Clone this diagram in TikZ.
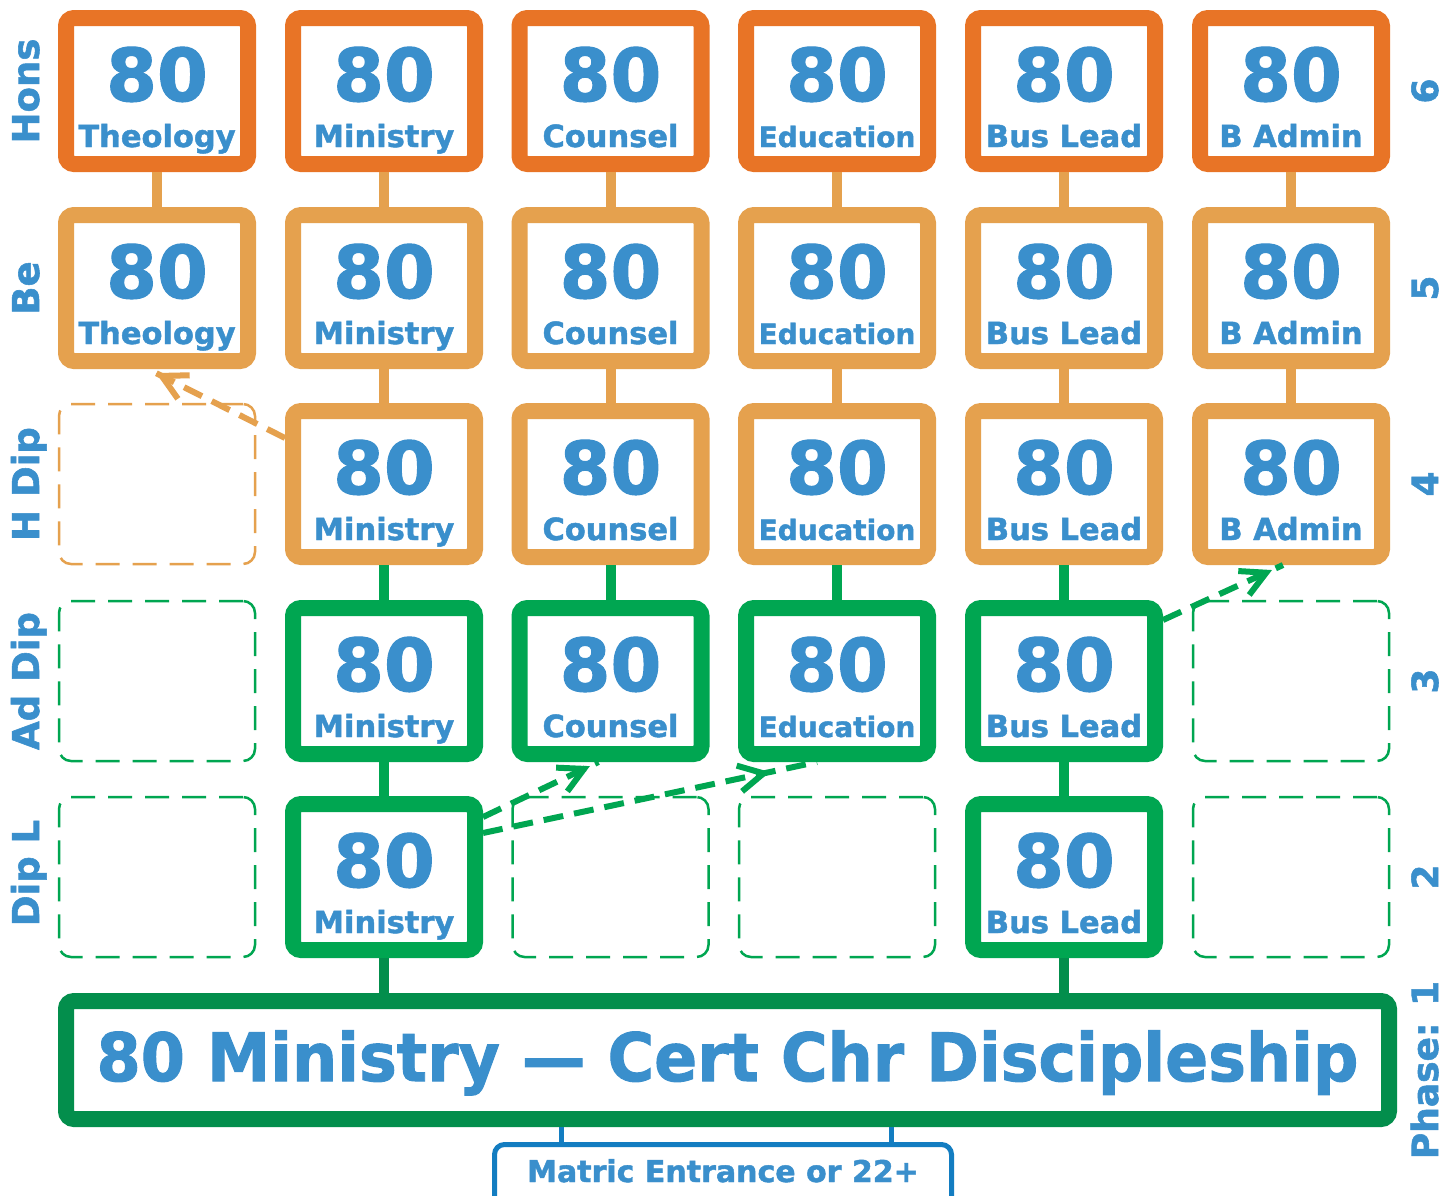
\documentclass[tikz,border=0pt]{standalone}
\usepackage{fontspec}
\setmainfont{DejaVu Sans}
\newfontfamily\hb{DejaVu Sans Bold}[FakeBold=1.5]
\usetikzlibrary{calc}
\definecolor{ordk}{RGB}{232,116,38}
\definecolor{orlt}{RGB}{229,161,78}
\definecolor{grn}{RGB}{0,166,81}
\definecolor{grndk}{RGB}{3,142,76}
\definecolor{tblue}{RGB}{58,143,204}
\definecolor{mblue}{RGB}{19,125,193}
\newcommand{\mkbox}[6]{%
  \node[tbox=#4] (#1) at (#2,#3) {};
  \node[numtxt] (#1n) at (#2,{#3+10}) {80};
  \node[labtxt,#5] (#1t) at (#2,{#3+56}) {#6};
}
% dashed arrow: colour, start, end, fraction of tip
\newcommand{\mkarrow}[4]{%
  \draw[darrow, color=#1] (#2) -- (#3);
  \coordinate (#2tip) at ($(#2)!#4!(#3)$);
  \draw[ahead, color=#1] ($(#2tip)!28pt!28:(#2)$) -- (#2tip) -- ($(#2tip)!28pt!-28:(#2)$);
}
\tikzset{
  tbox/.style={draw=#1, fill=white, line width=16pt, rounded corners=8pt,
    minimum width=182pt, minimum height=146pt, inner sep=0pt},
  dbox/.style={draw=#1, line width=2.5pt, dash pattern=on 24pt off 13pt,
    rounded corners=12pt, minimum width=196pt, minimum height=160pt, inner sep=0pt},
  numtxt/.style={anchor=base, inner sep=0pt, text=tblue,
    font=\fontsize{73}{73}\selectfont\hb},
  labtxt/.style={anchor=base, inner sep=0pt, text=tblue,
    font=\fontsize{30.5}{30.5}\selectfont\hb},
  edu/.style={font=\fontsize{28}{28}\selectfont\hb},
  nrm/.style={},
  conn/.style={line width=10pt},
  sidelab/.style={anchor=base, rotate=90, inner sep=0pt, text=tblue,
    font=\fontsize{37}{37}\selectfont\hb},
  phaselab/.style={anchor=base, rotate=90, inner sep=0pt, text=tblue,
    font=\fontsize{36}{36}\selectfont\hb},
  darrow/.style={line width=6pt, dash pattern=on 20pt off 11pt},
  ahead/.style={line width=6pt, line join=miter}
}
\begin{document}
\begin{tikzpicture}[x=1pt,y=-1pt]
\fill[white] (0,0) rectangle (1454,1195);
\useasboundingbox (0,0) rectangle (1454,1195);

% row 6 (Hons)
\mkbox{r6c1}{157}{91}{ordk}{nrm}{Theology}
\mkbox{r6c2}{384}{91}{ordk}{nrm}{Ministry}
\mkbox{r6c3}{610.5}{91}{ordk}{nrm}{Counsel}
\mkbox{r6c4}{837}{91}{ordk}{edu}{Education}
\mkbox{r6c5}{1064}{91}{ordk}{nrm}{Bus Lead}
\mkbox{r6c6}{1291}{91}{ordk}{nrm}{B Admin}
% row 5 (Be)
\mkbox{r5c1}{157}{288}{orlt}{nrm}{Theology}
\mkbox{r5c2}{384}{288}{orlt}{nrm}{Ministry}
\mkbox{r5c3}{610.5}{288}{orlt}{nrm}{Counsel}
\mkbox{r5c4}{837}{288}{orlt}{edu}{Education}
\mkbox{r5c5}{1064}{288}{orlt}{nrm}{Bus Lead}
\mkbox{r5c6}{1291}{288}{orlt}{nrm}{B Admin}
% row 4 (H Dip)
\node[dbox=orlt] (r4c1) at (157,484) {};
\mkbox{r4c2}{384}{484}{orlt}{nrm}{Ministry}
\mkbox{r4c3}{610.5}{484}{orlt}{nrm}{Counsel}
\mkbox{r4c4}{837}{484}{orlt}{edu}{Education}
\mkbox{r4c5}{1064}{484}{orlt}{nrm}{Bus Lead}
\mkbox{r4c6}{1291}{484}{orlt}{nrm}{B Admin}
% row 3 (Ad Dip)
\node[dbox=grn] (r3c1) at (157,681) {};
\mkbox{r3c2}{384}{681}{grn}{nrm}{Ministry}
\mkbox{r3c3}{610.5}{681}{grn}{nrm}{Counsel}
\mkbox{r3c4}{837}{681}{grn}{edu}{Education}
\mkbox{r3c5}{1064}{681}{grn}{nrm}{Bus Lead}
\node[dbox=grn] (r3c6) at (1291,681) {};
% row 2 (Dip L)
\node[dbox=grn] (r2c1) at (157,877) {};
\mkbox{r2c2}{384}{877}{grn}{nrm}{Ministry}
\node[dbox=grn] (r2c3) at (610.5,877) {};
\node[dbox=grn] (r2c4) at (837,877) {};
\mkbox{r2c5}{1064}{877}{grn}{nrm}{Bus Lead}
\node[dbox=grn] (r2c6) at (1291,877) {};

% main box
\node[draw=grndk, fill=white, line width=16pt, rounded corners=8pt,
  minimum width=1323pt, minimum height=118pt, inner sep=0pt] (main) at (727.5,1060) {};
\node[anchor=base, inner sep=0pt, text=tblue, font=\fontsize{63.5}{63.5}\selectfont\hb]
  (maint) at (727.5,1081) {\scalebox{1}[1.05]{80 Ministry — Cert Chr Discipleship}};

% matric box
\node[draw=mblue, line width=5pt, rounded corners=10pt,
  minimum width=457pt, minimum height=71pt, inner sep=0pt] (mt) at (723,1180) {};
\node[anchor=base, inner sep=0pt, text=tblue, font=\fontsize{30}{30}\selectfont\hb]
  (mtt) at (723,1182) {Matric Entrance or 22+};

% connectors
\foreach \c in {1,...,6} {\draw[conn,orlt] (r6c\c.south) -- (r5c\c.north);}
\foreach \c in {2,...,6} {\draw[conn,orlt] (r5c\c.south) -- (r4c\c.north);}
\foreach \c in {2,...,5} {\draw[conn,grn] (r4c\c.south) -- (r3c\c.north);}
\foreach \c in {2,5} {\draw[conn,grn] (r3c\c.south) -- (r2c\c.north);}
\foreach \c in {2,5} {\draw[conn,grndk] (r2c\c.south) -- (r2c\c.south |- main.north);}
\draw[mblue, line width=5pt] ([xshift=-166pt]main.south) -- ([xshift=-166pt]main.south |- mt.north);
\draw[mblue, line width=5pt] ([xshift=163.5pt]main.south) -- ([xshift=163.5pt]main.south |- mt.north);

% side labels
\node[sidelab] (lh) at (39,91) {Hons};
\node[sidelab] (lb) at (39,288) {Be};
\node[sidelab] (lhd) at (39,484) {H Dip};
\node[sidelab] (lad) at (39,681) {Ad Dip};
\node[sidelab] (ldl) at (39,873) {Dip L};
\node[phaselab] (p6) at (1438,91) {6};
\node[phaselab] (p5) at (1438,288) {5};
\node[phaselab] (p4) at (1438,484) {4};
\node[phaselab] (p3) at (1438,681) {3};
\node[phaselab] (p2) at (1438,877) {2};
\node[phaselab] (p1) at (1438,1070) {Phase: 1};

% dashed arrows
\coordinate (a1s) at ([yshift=46pt]r4c2.west);
\coordinate (a1e) at ([xshift=-9pt]r5c1.south);
\coordinate (a2s) at ([yshift=60pt]r2c2.east);
\coordinate (a2e) at ([xshift=-12pt]r3c3.south);
\coordinate (a3s) at ([yshift=44pt]r2c2.east);
\coordinate (a3e) at ([xshift=-20pt]r3c4.south);
\coordinate (a4s) at ([yshift=61pt]r3c5.east);
\coordinate (a4e) at ([xshift=-8pt]r4c6.south);
\mkarrow{orlt}{a1s}{a1e}{0.9}
\mkarrow{grn}{a2s}{a2e}{0.875}
\mkarrow{grn}{a3s}{a3e}{0.84}
\mkarrow{grn}{a4s}{a4e}{0.86}
\end{tikzpicture}
\end{document}
